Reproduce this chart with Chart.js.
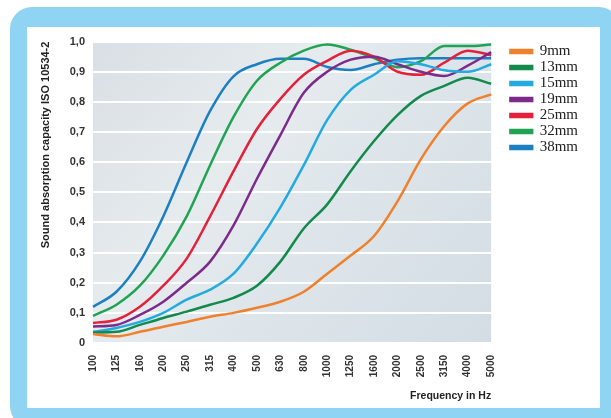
<!DOCTYPE html>
<html>
<head>
<meta charset="utf-8">
<script src="https://cdn.jsdelivr.net/npm/chart.js@4.4.0/dist/chart.umd.min.js"></script>
<style>
  html, body { margin: 0; padding: 0; background: #fff; }
  #frame {
    position: absolute; left: 10px; top: 7px; width: 611px; height: 421px;
    background: #8fd5f3; border-radius: 22px;
  }
  #panel {
    position: absolute; left: 27px; top: 27px; width: 573px; height: 381px;
    background: #fff;
  }
</style>
</head>
<body>
<div id="frame"></div>
<div id="panel"><canvas id="chartAbs" width="573" height="381"></canvas></div>
<script>
var frequencies = ['100', '125', '160', '200', '250', '315', '400', '500', '630', '800',
    '1000', '1250', '1600', '2000', '2500', '3150', '4000', '5000'];

var mm9  = [0.03, 0.022, 0.037, 0.054, 0.07, 0.087, 0.10, 0.117, 0.137, 0.17, 0.23, 0.29, 0.355, 0.47, 0.61, 0.72, 0.795, 0.825];
var mm13 = [0.035, 0.037, 0.06, 0.083, 0.104, 0.127, 0.15, 0.19, 0.27, 0.38, 0.46, 0.57, 0.67, 0.756, 0.82, 0.853, 0.88, 0.86];
var mm15 = [0.037, 0.05, 0.07, 0.10, 0.144, 0.177, 0.23, 0.33, 0.45, 0.59, 0.74, 0.84, 0.89, 0.935, 0.925, 0.905, 0.90, 0.925];
var mm19 = [0.055, 0.06, 0.093, 0.137, 0.20, 0.27, 0.39, 0.545, 0.69, 0.83, 0.90, 0.94, 0.95, 0.925, 0.90, 0.886, 0.92, 0.965];
var mm25 = [0.066, 0.077, 0.12, 0.19, 0.28, 0.42, 0.57, 0.71, 0.81, 0.89, 0.936, 0.97, 0.95, 0.90, 0.89, 0.93, 0.97, 0.955];
var mm32 = [0.09, 0.127, 0.19, 0.29, 0.42, 0.59, 0.75, 0.87, 0.93, 0.97, 0.99, 0.973, 0.945, 0.915, 0.935, 0.985, 0.985, 0.99];
var mm38 = [0.12, 0.17, 0.27, 0.42, 0.60, 0.77, 0.885, 0.925, 0.943, 0.943, 0.916, 0.906, 0.925, 0.94, 0.945, 0.945, 0.945, 0.945];

var seriesNames = ['9mm', '13mm', '15mm', '19mm', '25mm', '32mm', '38mm'];
var seriesData = [mm9, mm13, mm15, mm19, mm25, mm32, mm38];
var seriesColors = ['#f0802c', '#128a4b', '#23aade', '#7d2b8b', '#e4213b', '#20a453', '#1b7fc1'];

var sans = "'Liberation Sans', Arial, sans-serif";

// grey-blue plot background
const plotBg = {
    id: 'plotBg',
    beforeDraw(chart) {
        const a = chart.chartArea;
        const c = chart.ctx;
        const g = c.createLinearGradient(a.left, a.top, a.right, a.bottom);
        g.addColorStop(0, '#d9dfe4');
        g.addColorStop(0.35, '#e6ebee');
        g.addColorStop(0.6, '#dde5ea');
        g.addColorStop(1, '#d3dde3');
        c.save();
        c.fillStyle = g;
        c.fillRect(a.left, a.top, a.right - a.left, a.bottom - a.top);
        c.restore();
    }
};

// nudge the legend away from the plot, like the original
const legendShift = {
    id: 'legendShift',
    afterLayout(chart) {
        const l = chart.legend;
        l.left += 18; l.right += 18;
        l.top += 5; l.bottom += 5;
    }
};

const ctx = document.getElementById('chartAbs').getContext('2d');
const myChart = new Chart(ctx, {
    type: 'line',
    data: {
        labels: frequencies,
        datasets: seriesNames.map(function (n, i) {
            return {
                label: n,
                data: seriesData[i],
                borderColor: seriesColors[i],
                backgroundColor: seriesColors[i],
                borderWidth: 2.5,
                pointRadius: 0,
                tension: 0.4,
                cubicInterpolationMode: 'monotone'
            };
        })
    },
    options: {
        responsive: false,
        animation: false,
        layout: { padding: { top: 11, left: 12, right: 30, bottom: 0 } },
        plugins: {
            legend: {
                position: 'right',
                align: 'start',
                labels: {
                    boxWidth: 22,
                    boxHeight: 3,
                    padding: 1,
                    color: '#222',
                    font: { family: "'Liberation Serif', 'Times New Roman', serif", size: 15 }
                }
            },
            tooltip: { enabled: false }
        },
        scales: {
            x: {
                offset: false,
                grid: { display: false },
                border: { display: false },
                ticks: {
                    minRotation: 90,
                    maxRotation: 90,
                    padding: 4,
                    color: '#333',
                    font: { family: sans, size: 10, weight: 'bold' }
                },
                title: {
                    display: true,
                    text: 'Frequency in Hz',
                    align: 'end',
                    color: '#222',
                    padding: { top: 10, bottom: 6 },
                    font: { family: sans, size: 10.5, weight: 'bold' }
                },
                afterFit: function (scale) { scale.height = 65; }
            },
            y: {
                min: 0,
                max: 1,
                grid: { color: '#ffffff', lineWidth: 2, drawTicks: false },
                border: { display: false },
                ticks: {
                    stepSize: 0.1,
                    padding: 8,
                    color: '#333',
                    font: { family: sans, size: 11, weight: 'bold' },
                    callback: function (v) {
                        return v === 0 ? '0' : v.toFixed(1).replace('.', ',');
                    }
                },
                title: {
                    display: true,
                    text: 'Sound absorption capacity ISO 10534-2',
                    align: 'end',
                    color: '#222',
                    padding: { top: 0, bottom: 14 },
                    font: { family: sans, size: 11, weight: 'bold' }
                },
                afterFit: function (scale) { scale.width = 54; }
            }
        }
    },
    plugins: [plotBg, legendShift]
});
</script>
</body>
</html>
